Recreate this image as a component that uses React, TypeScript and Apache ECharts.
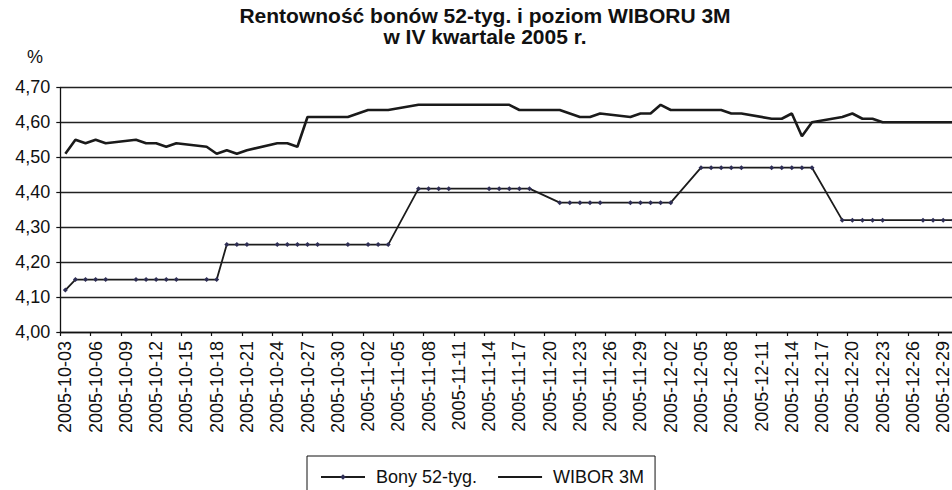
import React, { useEffect, useRef } from "react";
import * as echarts from "echarts";

const titleLines = ["Rentowność bonów 52-tyg. i poziom WIBORU 3M", "w IV kwartale 2005 r."];
const yUnit = "%";
const firstDay = "2005-10-03";
const lastDay = "2005-12-30";
const yMin = 4.0;
const yMax = 4.7;
const yStep = 0.1;

const sessionDates = [
  "2005-10-03", "2005-10-04", "2005-10-05", "2005-10-06", "2005-10-07",
  "2005-10-10", "2005-10-11", "2005-10-12", "2005-10-13", "2005-10-14",
  "2005-10-17", "2005-10-18", "2005-10-19", "2005-10-20", "2005-10-21",
  "2005-10-24", "2005-10-25", "2005-10-26", "2005-10-27", "2005-10-28",
  "2005-10-31", "2005-11-02", "2005-11-03", "2005-11-04",
  "2005-11-07", "2005-11-08", "2005-11-09", "2005-11-10",
  "2005-11-14", "2005-11-15", "2005-11-16", "2005-11-17", "2005-11-18",
  "2005-11-21", "2005-11-22", "2005-11-23", "2005-11-24", "2005-11-25",
  "2005-11-28", "2005-11-29", "2005-11-30", "2005-12-01", "2005-12-02",
  "2005-12-05", "2005-12-06", "2005-12-07", "2005-12-08", "2005-12-09",
  "2005-12-12", "2005-12-13", "2005-12-14", "2005-12-15", "2005-12-16",
  "2005-12-19", "2005-12-20", "2005-12-21", "2005-12-22", "2005-12-23",
  "2005-12-27", "2005-12-28", "2005-12-29", "2005-12-30",
];

const bonyValues = [
  4.12, 4.15, 4.15, 4.15, 4.15,
  4.15, 4.15, 4.15, 4.15, 4.15,
  4.15, 4.15, 4.25, 4.25, 4.25,
  4.25, 4.25, 4.25, 4.25, 4.25,
  4.25, 4.25, 4.25, 4.25,
  4.41, 4.41, 4.41, 4.41,
  4.41, 4.41, 4.41, 4.41, 4.41,
  4.37, 4.37, 4.37, 4.37, 4.37,
  4.37, 4.37, 4.37, 4.37, 4.37,
  4.47, 4.47, 4.47, 4.47, 4.47,
  4.47, 4.47, 4.47, 4.47, 4.47,
  4.32, 4.32, 4.32, 4.32, 4.32,
  4.32, 4.32, 4.32, 4.32,
];

const wiborValues = [
  4.51, 4.55, 4.54, 4.55, 4.54,
  4.55, 4.54, 4.54, 4.53, 4.54,
  4.53, 4.51, 4.52, 4.51, 4.52,
  4.54, 4.54, 4.53, 4.615, 4.615,
  4.615, 4.635, 4.635, 4.635,
  4.65, 4.65, 4.65, 4.65,
  4.65, 4.65, 4.65, 4.635, 4.635,
  4.635, 4.625, 4.615, 4.615, 4.625,
  4.615, 4.625, 4.625, 4.65, 4.635,
  4.635, 4.635, 4.635, 4.625, 4.625,
  4.61, 4.61, 4.625, 4.56, 4.6,
  4.615, 4.625, 4.61, 4.61, 4.6,
  4.6, 4.6, 4.6, 4.6,
];

const seriesNames = ["Bony 52-tyg.", "WIBOR 3M"];

function buildDays(from: string, to: string): string[] {
  const out: string[] = [];
  const d = new Date(from + "T00:00:00Z");
  const end = new Date(to + "T00:00:00Z");
  while (d.getTime() <= end.getTime()) {
    out.push(d.toISOString().slice(0, 10));
    d.setUTCDate(d.getUTCDate() + 1);
  }
  return out;
}

const FONT = "'Liberation Sans', Arial, Helvetica, sans-serif";

export default function App() {
  const ref = useRef<HTMLDivElement>(null);
  useEffect(() => {
    if (!ref.current) return;
    const chart = echarts.init(ref.current, undefined, { renderer: "svg" });
    const days = buildDays(firstDay, lastDay);
    const align = (vals: number[]) => {
      const m = new Map<string, number>();
      sessionDates.forEach((d, i) => m.set(d, vals[i]));
      return days.map((d) => (m.has(d) ? m.get(d)! : null));
    };
    const W = 975;
    chart.setOption({
      animation: false,
      backgroundColor: "#fff",
      textStyle: { fontFamily: FONT },
      graphic: [
        {
          type: "text",
          x: 485,
          y: 15,
          style: {
            text: titleLines[0],
            font: `bold 21px ${FONT}`,
            fill: "#111",
            textAlign: "center",
            textVerticalAlign: "middle",
          },
        },
        {
          type: "text",
          x: 485,
          y: 36,
          style: {
            text: titleLines[1],
            font: `bold 21px ${FONT}`,
            fill: "#111",
            textAlign: "center",
            textVerticalAlign: "middle",
          },
        },
        {
          type: "text",
          x: 35,
          y: 57,
          style: {
            text: yUnit,
            font: `18px ${FONT}`,
            fill: "#111",
            textAlign: "center",
            textVerticalAlign: "middle",
          },
        },
      ],
      legend: {
        left: 307,
        top: 456,
        orient: "horizontal",
        borderColor: "#111",
        borderWidth: 1,
        padding: [12, 11, 12, 13],
        itemWidth: 44,
        itemHeight: 7,
        itemGap: 20,
        textStyle: { fontSize: 18, fontFamily: FONT, color: "#111", padding: [0, 0, 0, 6] },
        data: [
          { name: seriesNames[0] },
          { name: seriesNames[1], itemStyle: { opacity: 0 } },
        ],
      },
      grid: { left: 60.3, right: W - 958.3, top: 87.3, bottom: 158, containLabel: false },
      xAxis: {
        type: "category",
        data: days,
        boundaryGap: true,
        axisLine: { show: true, lineStyle: { color: "#111", width: 1.3 } },
        axisTick: { show: true, interval: 2, length: 4, lineStyle: { color: "#111", width: 1.2 } },
        axisLabel: {
          interval: 2,
          rotate: 90,
          margin: 9,
          fontSize: 18,
          fontFamily: FONT,
          color: "#111",
        },
        splitLine: { show: false },
      },
      yAxis: {
        type: "value",
        min: yMin,
        max: yMax,
        interval: yStep,
        axisLine: { show: true, lineStyle: { color: "#111", width: 1.3 } },
        axisTick: { show: true, length: 4, lineStyle: { color: "#111", width: 1.2 } },
        axisLabel: {
          margin: 10,
          fontSize: 18,
          fontFamily: FONT,
          color: "#111",
          formatter: (v: number) => v.toFixed(2).replace(".", ","),
        },
        splitLine: { show: true, lineStyle: { color: "#222", width: 1.3 } },
      },
      series: [
        {
          name: seriesNames[0],
          type: "line",
          data: align(bonyValues),
          connectNulls: true,
          symbol: "diamond",
          symbolSize: 5,
          showSymbol: true,
          showAllSymbol: true,
          itemStyle: { color: "#2e2e55" },
          lineStyle: { color: "#1c1c1c", width: 1.8 },
          z: 3,
        },
        {
          name: seriesNames[1],
          type: "line",
          data: align(wiborValues),
          connectNulls: true,
          symbol: "none",
          itemStyle: { color: "#1a1a1a" },
          lineStyle: { color: "#1a1a1a", width: 2.6 },
          z: 2,
        },
      ],
    });
    return () => chart.dispose();
  }, []);
  return (
    <div
      style={{
        position: "fixed",
        left: 0,
        top: 0,
        width: 952,
        height: 490,
        overflow: "hidden",
        background: "#fff",
      }}
    >
      <div ref={ref} style={{ width: 975, height: 490 }} />
    </div>
  );
}
